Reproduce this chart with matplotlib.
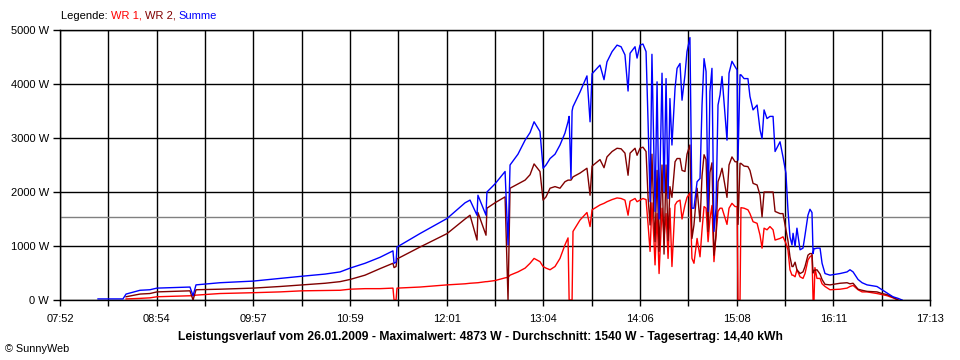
import numpy as np
import matplotlib
matplotlib.use("Agg")
import matplotlib.pyplot as plt

plt.rcParams['font.family'] = ['Liberation Sans', 'DejaVu Sans']
plt.rcParams['font.size'] = 8

nan = float('nan')

# time of each reading, minutes after midnight
minute_of_day = [496.5, 512.6, 514.6, 523.6, 530.0, 534.5, 546.2, 555.8, 557.8, 559.7,
                 575.2, 596.5, 613.9, 628.0, 642.9, 652.6, 659.0, 668.7, 678.3, 686.7,
                 687.4, 688.7, 689.3, 704.1, 721.6, 733.2, 736.4, 740.9, 741.5, 746.7,
                 747.3, 752.5, 759.0, 760.9, 762.2, 767.3, 771.9, 775.1, 777.7, 781.5,
                 783.5, 785.4, 788.0, 791.2, 794.4, 797.6, 799.6, 800.3, 801.5, 802.2,
                 802.8, 807.3, 811.8, 813.8, 815.1, 820.2, 822.8, 824.7, 828.0, 831.2,
                 833.8, 836.3, 838.3, 839.6, 842.8, 844.1, 846.0, 847.9, 849.9, 851.2,
                 852.5, 853.7, 855.0, 855.7, 857.0, 858.3, 860.2, 861.5, 862.8, 864.1,
                 865.3, 866.6, 868.6, 869.9, 871.8, 873.1, 875.0, 876.3, 878.2, 878.9,
                 879.5, 880.8, 882.8, 884.7, 886.0, 887.3, 888.6, 889.9, 891.1, 892.4,
                 893.7, 895.0, 896.3, 897.6, 898.9, 902.1, 903.4, 905.3, 907.3, 908.6,
                 909.2, 910.5, 911.1, 913.1, 915.6, 916.9, 918.9, 921.5, 923.4, 924.7,
                 926.0, 927.9, 929.8, 931.8, 933.1, 936.3, 938.2, 940.1, 941.4, 942.7,
                 944.0, 944.7, 946.0, 947.2, 949.2, 951.1, 952.4, 954.3, 955.6, 956.9,
                 957.6, 958.2, 958.8, 960.1, 962.1, 963.4, 965.3, 968.5, 975.0, 979.5,
                 981.4, 983.4, 986.6, 989.2, 992.4, 998.8, 1002.1, 1005.3, 1009.1, 1012.4,
                 1015.0]

wr1 = [nan, nan, 20, 30, 40, 60, 70, 80, 80, 90,
       120, 135, 150, 170, 175, 180, 200, 210, 210, 220,
       0, 0, 220, 240, 280, 300, 310, 320, 320, 340,
       340, 360, 410, 420, 460, 520, 590, 680, 770, 710,
       620, 590, 560, 620, 770, 1020, 1150, 0, 0, 0,
       1270, 1480, 1620, 1360, 1670, 1760, 1790, 1820, 1860, 1890,
       1880, 1850, 1570, 1830, 1880, 1820, 1850, 1880, 1860, 1400,
       900, 1800, 1100, 650, 1600, 490, 1700, 1150, 1600, 770,
       1700, 620, 1760, 1820, 1850, 1500, 1760, 1900, 1980, 1300,
       770, 680, 1140, 800, 1300, 1730, 1700, 1080, 1500, 1750,
       710, 1200, 1640, 1700, 1700, 1400, 1700, 1790, 1730, 1730,
       0, 0, 1710, 1700, 1670, 1600, 1450, 1420, 1200, 960,
       1330, 1300, 1360, 1300, 1110, 1140, 1170, 1050, 930, 560,
       460, 460, 430, 560, 430, 400, 490, 740, 800, 830,
       0, 0, 600, 400, 400, 300, 250, 190, 200, 220,
       250, 270, 190, 150, 150, 120, 100, 80, 40, 0,
       nan]

wr2 = [nan, nan, 60, 110, 120, 150, 160, 170, 0, 190,
       200, 220, 250, 280, 310, 340, 380, 460, 580, 680,
       600, 620, 760, 980, 1230, 1500, 1570, 1110, 1620, 1200,
       1700, 1800, 1910, 0, 2070, 2150, 2220, 2320, 2520, 2380,
       1850, 1910, 2070, 2100, 2070, 2190, 2220, 2220, 2220, 2250,
       2280, 2350, 2440, 1940, 2480, 2600, 2450, 2650, 2750, 2810,
       2800, 2720, 2310, 2720, 2810, 2680, 2810, 2830, 2750, 1900,
       1390, 2700, 1500, 1080, 2400, 900, 2500, 850, 2500, 1100,
       2100, 1900, 2560, 2620, 2620, 2400, 2380, 2700, 2870, 2000,
       1140, 1390, 2070, 1450, 2300, 2690, 2600, 1270, 2360, 2540,
       830, 1200, 2190, 2300, 2440, 1900, 2500, 2650, 2560, 2560,
       1400, 2530, 2530, 2480, 2470, 2400, 2160, 2130, 1940, 1540,
       2000, 2000, 2000, 2000, 1640, 1600, 1600, 1300, 1100, 800,
       620, 620, 700, 560, 490, 520, 620, 830, 860, 860,
       500, 550, 550, 560, 480, 380, 290, 280, 310, 320,
       300, 310, 200, 180, 160, 150, 120, 100, 50, 0,
       nan]

summe = [20, 20, 110, 180, 190, 220, 230, 240, 80, 280,
         320, 350, 400, 440, 480, 520, 590, 680, 790, 910,
         680, 700, 980, 1230, 1510, 1800, 1850, 1570, 1940, 1570,
         2000, 2150, 2380, 1020, 2500, 2700, 2960, 3100, 3300, 3120,
         2440, 2500, 2620, 2700, 2870, 3090, 3300, 3400, 2250, 3500,
         3580, 3850, 4150, 3300, 4190, 4350, 4080, 4410, 4600, 4720,
         4690, 4540, 3870, 4570, 4690, 4480, 4720, 4740, 4600, 3300,
         1820, 4550, 2600, 1640, 4040, 1500, 4200, 2000, 4100, 1880,
         3730, 2870, 3920, 4290, 4380, 3700, 4170, 4600, 4860, 3240,
         1700, 1700, 2190, 2250, 3610, 4470, 4230, 1640, 3860, 4290,
         1270, 1700, 3610, 3800, 4140, 2960, 4200, 4420, 4320, 4260,
         2590, 4170, 4170, 4100, 4100, 3770, 3520, 3610, 3150, 2990,
         3520, 3360, 3400, 3400, 2750, 2930, 2650, 2350, 1670, 1170,
         1020, 1235, 990, 1330, 930, 960, 1200, 1570, 1680, 1620,
         860, 950, 950, 960, 960, 680, 490, 460, 490, 520,
         560, 520, 380, 320, 280, 250, 190, 130, 60, 30,
         0]

tick_labels = ["07:52", "08:54", "09:57", "10:59", "12:01",
               "13:04", "14:06", "15:08", "16:11", "17:13"]
y_labels = ["0 W", "1000 W", "2000 W", "3000 W", "4000 W", "5000 W"]
average = 1540

t_start, t_end = 472, 1033  # 07:52 .. 17:13

fig = plt.figure(figsize=(9.6, 3.6), dpi=100)
ax = fig.add_axes([60 / 960, 60 / 360, 870 / 960, 270 / 360])

major = np.linspace(t_start, t_end, len(tick_labels))
minor = (major[:-1] + major[1:]) / 2
ax.set_xlim(t_start, t_end)
ax.set_ylim(0, 5000)
ax.set_xticks(major, labels=tick_labels)
ax.set_xticks(minor, minor=True)
ax.set_yticks(np.arange(0, 5001, 1000), labels=y_labels)

ax.set_axisbelow(True)
ax.grid(True, which='both', axis='x', color='black', lw=1)
ax.grid(True, which='major', axis='y', color='black', lw=1)
ax.tick_params(axis='x', which='both', length=4, width=1, pad=6)
ax.tick_params(axis='y', length=5, width=1, pad=3)
for s in ax.spines.values():
    s.set_linewidth(1)

ax.axhline(average, color='#808080', lw=1)
ax.plot(minute_of_day, wr1, color='#ff0000', lw=1)
ax.plot(minute_of_day, wr2, color='#800000', lw=1)
ax.plot(minute_of_day, summe, color='#0000ff', lw=1)

# legend line in several colours
t = fig.text(61 / 960, 1 - 16 / 360, "Legende: ", color='black', va='center')
for s, c in [("WR 1, ", '#ff0000'), ("WR 2, ", '#800000'), ("Summe", '#0000ff')]:
    t = ax.annotate(s, xy=(1, 0), xycoords=t, va='bottom', color=c)

fig.text(0.5, 1 - 337 / 360,
         "Leistungsverlauf vom 26.01.2009 - Maximalwert: 4873 W - Durchschnitt: 1540 W - Tagesertrag: 14,40 kWh",
         ha='center', va='center', fontweight='bold', fontsize=8.7)
fig.text(5 / 960, 1 - 349 / 360, "\u00a9 SunnyWeb", fontsize=7.8, va='center')

fig.savefig("out.png", dpi=100)
